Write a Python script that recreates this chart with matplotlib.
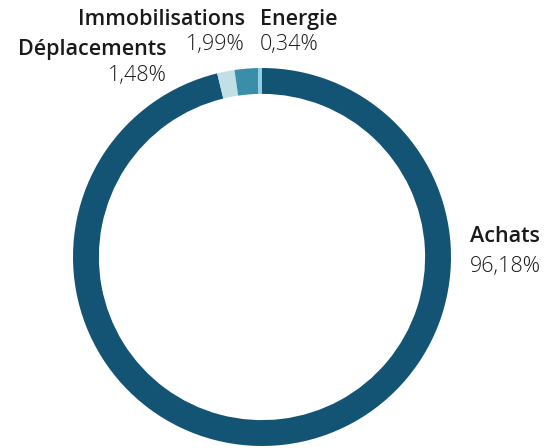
import matplotlib
matplotlib.use("Agg")
import matplotlib.pyplot as plt

# répartition des émissions par poste
postes = ['Achats', 'Déplacements', 'Immobilisations', 'Energie']
parts = [96.18, 1.48, 1.99, 0.34]
couleurs = ['#135475', '#c3dfe6', '#3a8ea9', '#8dcfe6']

W, H = 544, 448
fig = plt.figure(figsize=(W / 100, H / 100), dpi=100)

# anneau centré vers (262, 257) px, rayon ~189 px
cx, cy, r = 262, 257, 189
ax = fig.add_axes([(cx - r) / W, (H - cy - r) / H, 2 * r / W, 2 * r / H])
ax.pie(parts, colors=couleurs, startangle=90, counterclock=False,
       radius=1, wedgeprops=dict(width=0.137, linewidth=0))
ax.set_xlim(-1, 1)
ax.set_ylim(-1, 1)
ax.set_aspect('equal')
ax.axis('off')

def fmt(v):
    return '{:.2f}%'.format(v).replace('.', ',')

# (x, baseline nom, baseline valeur, alignement) en pixels
places = {
    'Achats': (470, 242, 272, 'left'),
    'Déplacements': (167, 55, 81, 'right'),
    'Immobilisations': (245, 25, 50, 'right'),
    'Energie': (260, 25, 50, 'left'),
}

for nom, v in zip(postes, parts):
    x, y1, y2, ha = places[nom]
    fig.text(x / W, 1 - y1 / H, nom, ha=ha, va='baseline', fontsize=15.5,
             fontweight='semibold', family='Open Sans', color='#1a1a1a')
    fig.text(x / W, 1 - y2 / H, fmt(v), ha=ha, va='baseline', fontsize=15.5,
             fontweight='light', family='Open Sans', color='#1a1a1a')

fig.savefig('out.png', dpi=100)
